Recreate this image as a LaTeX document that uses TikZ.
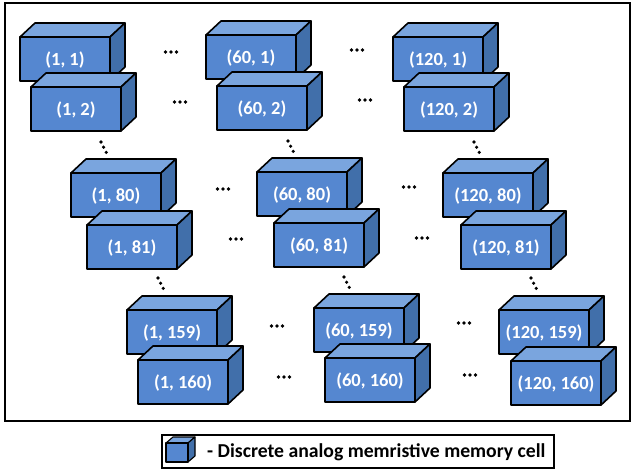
\documentclass[tikz,border=0pt]{standalone}
\usepackage{fontspec}
\setmainfont{Carlito}
\definecolor{frontc}{HTML}{5587D0}
\definecolor{topc}{HTML}{7AA5DE}
\definecolor{sidec}{HTML}{416FAA}
\tikzset{
  facestyle/.style={draw=black,line width=1.6pt,line join=round},
  celllabel/.style={text=white,font=\fontsize{18.5}{20}\selectfont\bfseries,inner sep=0pt},
  dotstyle/.style={fill=black}
}
% #1 x, #2 y (front top-left, px, y down), #3 label, #4 name
\newcommand{\memcell}[4]{%
  \filldraw[facestyle,fill=topc] (#1,#2) -- ++(15,-14) -- ++(90,0) -- ++(-15,14) -- cycle;
  \filldraw[facestyle,fill=sidec] (#1+90,#2) -- ++(15,-14) -- ++(0,44) -- ++(-15,14) -- cycle;
  \filldraw[facestyle,fill=frontc] (#1,#2) rectangle ++(90,44);
  \node[celllabel] (#4) at (#1+45,#2+23) {#3};
}
\newcommand{\hdots}[2]{%
  \foreach \k in {-1,0,1} {\fill[dotstyle] (#1+5.5*\k,#2) circle (1.8);}
}
\newcommand{\vdotsd}[2]{%
  \foreach \k in {0,1,2} {\fill[dotstyle] (#1+2.6*\k,#2+5.2*\k) circle (1.8);}
}
\begin{document}
\begin{tikzpicture}[x=1pt,y=-1pt]
\useasboundingbox (0,0) rectangle (632,470);
\draw[line width=2pt] (5,3) rectangle (630,421);
% group 0
\memcell{20}{37}{(1, 1)}{c1a}
\memcell{206}{35}{(60, 1)}{c60a}
\memcell{393}{37}{(120, 1)}{c120a}
\memcell{31}{87}{(1, 2)}{c1b}
\memcell{217}{86}{(60, 2)}{c60b}
\memcell{404}{87}{(120, 2)}{c120b}
% group 1
\memcell{71}{173}{(1, 80)}{c1c}
\memcell{257}{172}{(60, 80)}{c60c}
\memcell{443}{173}{(120, 80)}{c120c}
\memcell{87}{225}{(1, 81)}{c1d}
\memcell{274}{223}{(60, 81)}{c60d}
\memcell{461}{225}{(120, 81)}{c120d}
% group 2
\memcell{127}{310}{(1, 159)}{c1e}
\memcell{314}{308}{(60, 159)}{c60e}
\memcell{499}{310}{(120, 159)}{c120e}
\memcell{138}{360}{(1, 160)}{c1f}
\memcell{325}{358}{(60, 160)}{c60f}
\memcell{511}{361}{(120, 160)}{c120f}
% horizontal dots
\hdots{171}{52} \hdots{357}{50}
\hdots{180}{102} \hdots{365}{100}
\hdots{223}{189} \hdots{409}{187}
\hdots{236}{239} \hdots{422}{238}
\hdots{277}{326} \hdots{464}{323}
\hdots{284}{377} \hdots{470}{375}
% diagonal dots
\vdotsd{101}{142} \vdotsd{288}{141} \vdotsd{474}{142}
\vdotsd{158}{278} \vdotsd{344}{277} \vdotsd{531}{278}
% legend
\draw[line width=1.5pt] (162,435) rectangle (554,468);
\filldraw[draw=black,line width=1.1pt,line join=round,fill=topc] (166,443) -- ++(7,-6) -- ++(22,0) -- ++(-7,6) -- cycle;
\filldraw[draw=black,line width=1.1pt,line join=round,fill=sidec] (188,443) -- ++(7,-6) -- ++(0,19) -- ++(-7,6) -- cycle;
\filldraw[draw=black,line width=1.1pt,line join=round,fill=frontc] (166,443) rectangle (188,462);
\node[anchor=west,inner sep=0pt,font=\fontsize{19.7}{22}\selectfont\bfseries] (legtext) at (207,452) {- Discrete analog memristive memory cell};
\end{tikzpicture}
\end{document}
